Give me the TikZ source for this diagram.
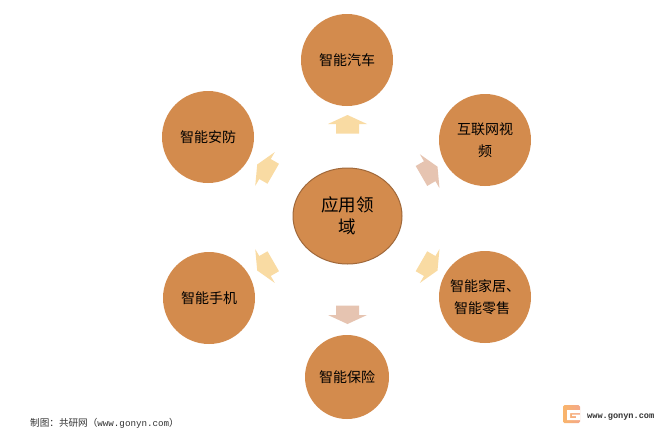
\documentclass[tikz,border=0pt]{standalone}
\usepackage{fontspec}
\setmainfont{Liberation Serif}
\newfontfamily\cjk{Noto Sans CJK SC}
\newfontfamily\latinmono{Liberation Mono}
\definecolor{circfill}{HTML}{D38B4D}
\definecolor{circedge}{HTML}{A0683A}
\definecolor{arrowlight}{HTML}{F9DBA3}
\definecolor{arrowpink}{HTML}{E6C4B1}
\definecolor{footgrey}{HTML}{333333}
\definecolor{logoa}{HTML}{F9B56B}
\definecolor{logob}{HTML}{F4A88A}
\tikzset{
  petal/.style={circle,fill=circfill,inner sep=0pt,align=center,text=black,font=\cjk\fontsize{14}{22}\selectfont},
  hub/.style={ellipse,fill=circfill,draw=circedge,line width=1pt,inner sep=0pt,align=center,minimum width=109pt,minimum height=96pt,font=\cjk\fontsize{17.5}{22.5}\selectfont},
  foot/.style={inner sep=0pt,anchor=west,text=footgrey}
}
\usetikzlibrary{shapes.geometric}
\newcommand{\blockarrow}[3]{%
  \fill[#3,shift={(#1)},rotate=#2] (9,0) -- (0,19.5) -- (0,11.5) -- (-9.5,11.5) -- (-9.5,-11.5) -- (0,-11.5) -- (0,-19.5) -- cycle;}
\begin{document}
\begin{tikzpicture}[x=1pt,y=-1pt]
\useasboundingbox (0,0) rectangle (660,432);
\fill[white] (0,0) rectangle (660,432);
\node[hub] (center) at (347.5,216) {应用领\\域};
\node[petal,minimum size=92pt] (auto) at (347,60) {智能汽车};
\node[petal,minimum size=92pt] (video) at (485,140) {互联网视\\频};
\node[petal,minimum size=92pt] (home) at (485,297) {\raisebox{0pt}{智能家居、}\\\hspace{-6pt}智能零售};
\node[petal,minimum size=84pt] (ins) at (347,377) {智能保险};
\node[petal,minimum size=92pt] (phone) at (209,298) {智能手机};
\node[petal,minimum size=92pt] (sec) at (208,137) {智能安防};
\blockarrow{347.5,124}{90}{arrowlight}
\blockarrow{347.5,315}{-90}{arrowpink}
\blockarrow{429.7,171.2}{30}{arrowpink}
\blockarrow{429.7,266}{-30}{arrowlight}
\blockarrow{265,169}{150}{arrowlight}
\blockarrow{265,266}{210}{arrowlight}
\node[foot,font=\cjk\fontsize{9.6}{11}\selectfont] (credit) at (30,423) {制图：共研网（\latinmono\fontsize{9.2}{11}\selectfont www.gonyn.com\cjk\fontsize{9.6}{11}\selectfont）};
\node[foot,font=\latinmono\bfseries\fontsize{8.6}{10}\selectfont] (site) at (587,417) {www.gonyn.com};
% logo
\shade[left color=logoa,right color=logob,rounded corners=1.5pt] (563,405) rectangle (580,423);
\fill[white] (567,410) -- (580,410) -- (580,413) -- (570,413) -- (570,418) -- (576,418) -- (576,416) -- (572,416) -- (572,414.5) -- (580,414.5) -- (580,420) -- (567,420) -- cycle;
\end{tikzpicture}
\end{document}
